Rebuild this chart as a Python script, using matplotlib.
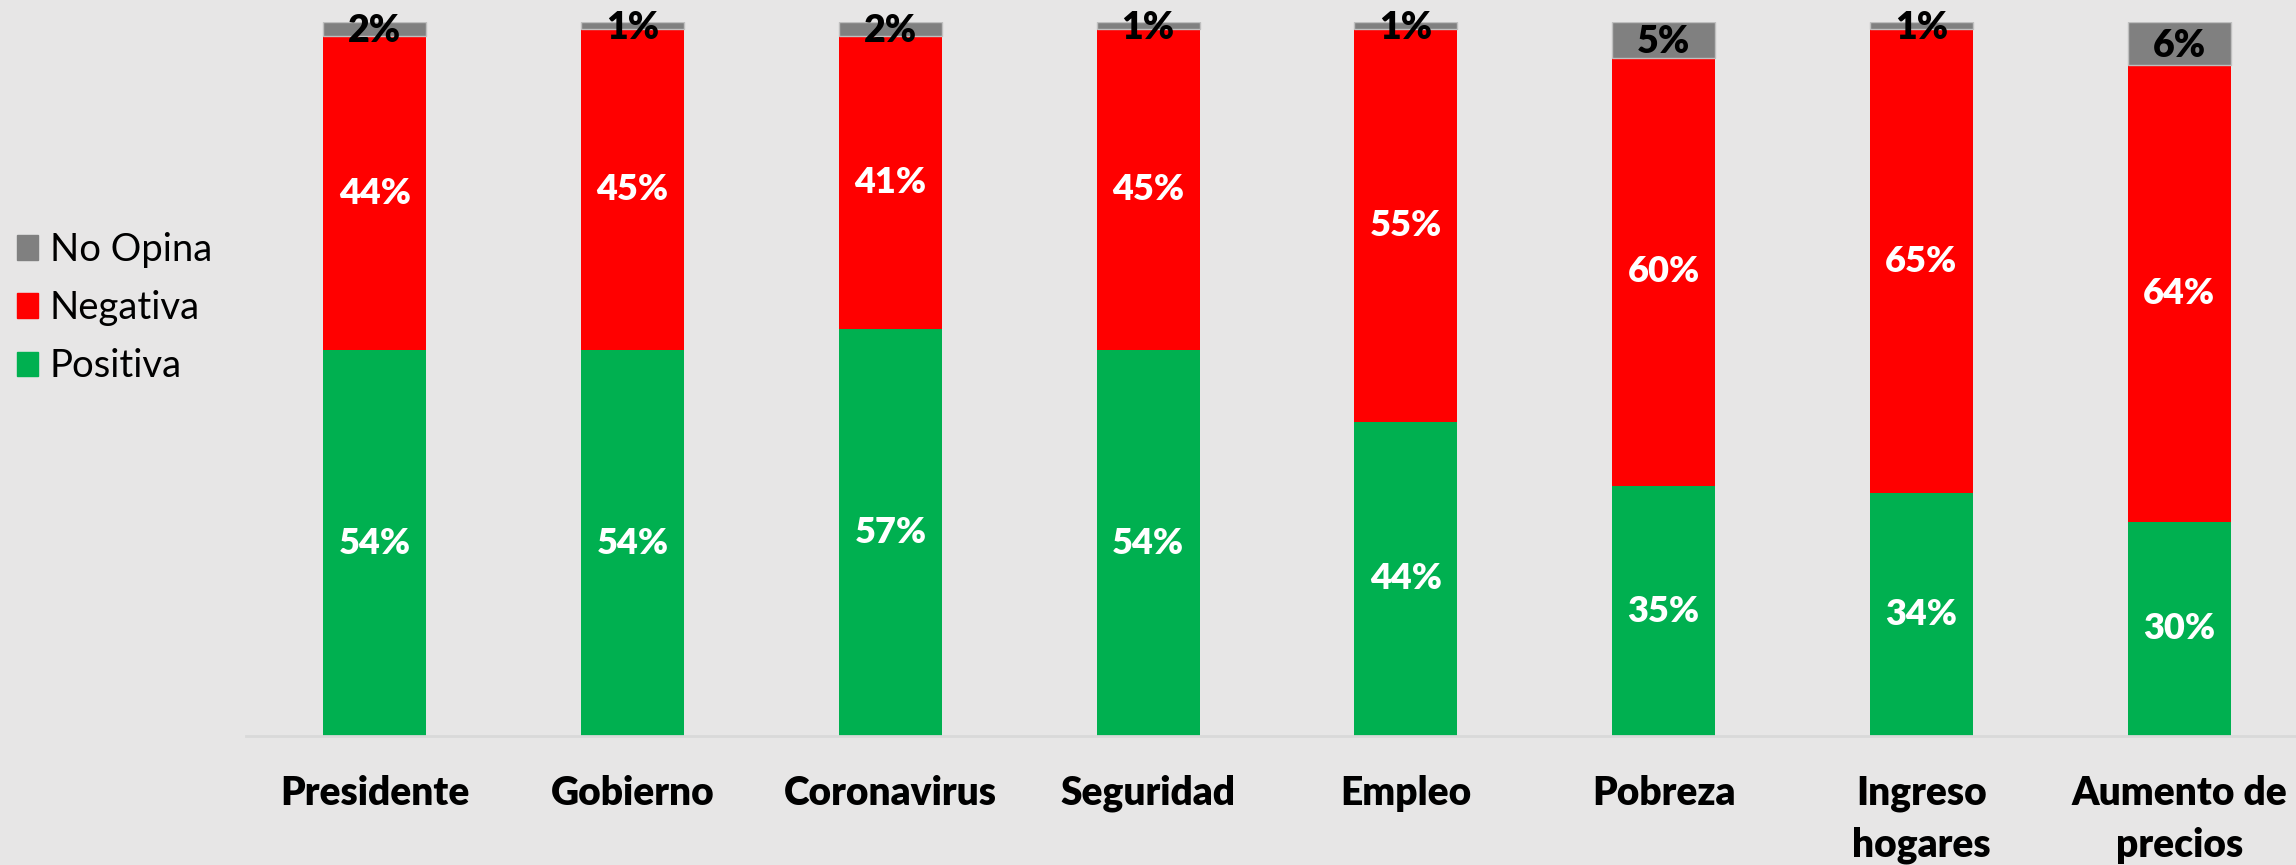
import matplotlib
matplotlib.use("Agg")
import matplotlib.pyplot as plt
from matplotlib.patches import Patch
import numpy as np

categories = ["Presidente", "Gobierno", "Coronavirus", "Seguridad", "Empleo",
              "Pobreza", "Ingreso\nhogares", "Aumento de\nprecios"]
positiva = [54, 54, 57, 54, 44, 35, 34, 30]
negativa = [44, 45, 41, 45, 55, 60, 65, 64]
no_opina = [2, 1, 2, 1, 1, 5, 1, 6]

FONT = ['Lato', 'DejaVu Sans']
plt.rcParams['font.family'] = FONT

BG = "#E7E6E6"
GREEN = "#00B050"
RED = "#FF0000"
GRAY = "#808080"
WEIGHT = "heavy"

fig = plt.figure(figsize=(22.96, 8.65), dpi=100, facecolor=BG)
ax = fig.add_axes([246/2296, 1-736/865, (2308-246)/2296, (736-22)/865])
ax.set_facecolor(BG)

x = np.arange(len(categories))
w = 0.40
pos = np.array(positiva)
neg = np.array(negativa)
nop = np.array(no_opina)
ax.bar(x, pos, w, color=GREEN, label="Positiva")
ax.bar(x, neg, w, bottom=pos, color=RED, label="Negativa")
ax.bar(x, nop, w, bottom=pos+neg, color=GRAY, label="No Opina",
       edgecolor="#BFBFBF", linewidth=1)

for i in range(len(categories)):
    ax.text(x[i], pos[i]/2, f"{pos[i]}%", ha="center", va="center",
            color="white", fontsize=26, fontweight=WEIGHT)
    ax.text(x[i], pos[i] + neg[i]/2, f"{neg[i]}%", ha="center", va="center",
            color="white", fontsize=26, fontweight=WEIGHT)
    ax.text(x[i], pos[i] + neg[i] + nop[i]/2 - 0.3, f"{nop[i]}%", ha="center", va="center",
            color="black", fontsize=27, fontweight=WEIGHT)

ax.set_xlim(-0.5, 7.5)
ax.set_ylim(0, 100)
ax.set_yticks([])
for s in ["top", "right", "left"]:
    ax.spines[s].set_visible(False)
ax.spines["bottom"].set_color("#D9D9D9")
ax.spines["bottom"].set_linewidth(2)
ax.set_xticks(x)
ax.set_xticklabels(categories, fontsize=28, fontweight=WEIGHT, linespacing=1.5)
ax.tick_params(axis="x", length=0, pad=28)

handles = [Patch(color=GRAY), Patch(color=RED), Patch(color=GREEN)]
labels = ["No Opina", "Negativa", "Positiva"]
fig.legend(handles, labels, loc="center left", bbox_to_anchor=(0.0, 1-308/865),
           frameon=False, fontsize=27.5, handlelength=0.55, handleheight=0.6,
           handletextpad=0.3, labelspacing=0.58, borderaxespad=0.05)

fig.savefig("out.png", dpi=100, facecolor=BG)
